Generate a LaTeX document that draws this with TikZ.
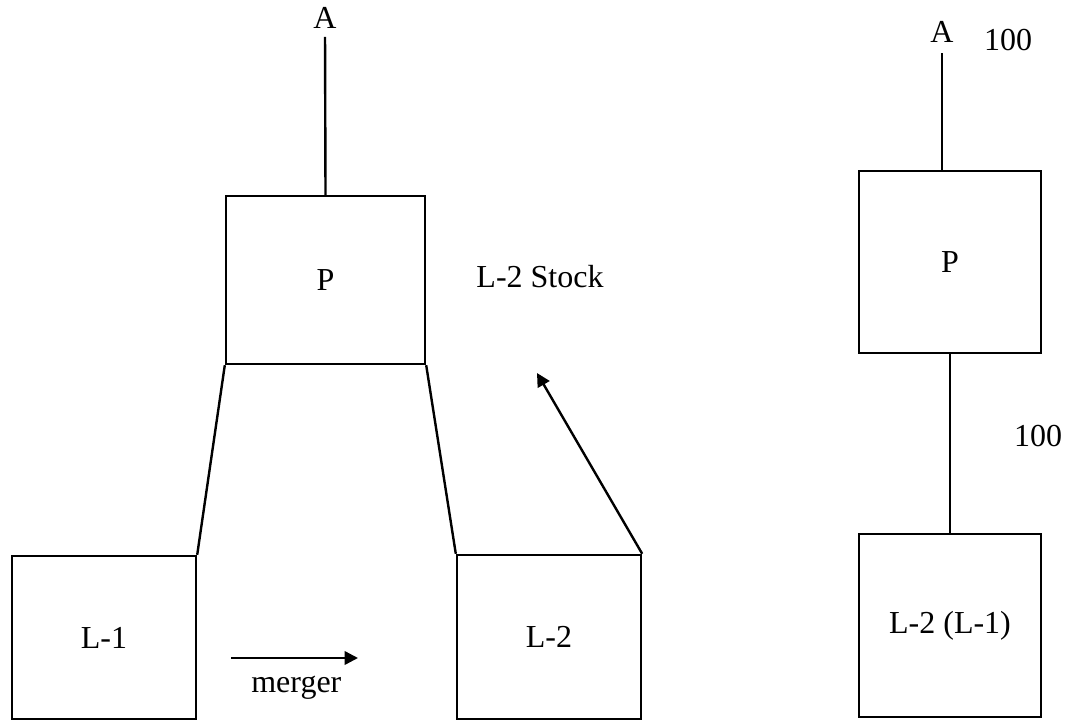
\documentclass[tikz,border=0pt]{standalone}
\usepackage{fontspec}
\setmainfont{Liberation Serif}
\usepackage{tikz}
\usetikzlibrary{arrows.meta,positioning}

\begin{document}
\begin{tikzpicture}[
  x=0.75pt,y=-0.75pt,
  every node/.style={font=\fontsize{24}{28}\selectfont},
  box/.style={draw=black,line width=1.8pt,inner sep=0pt},
  lbl/.style={inner sep=0pt},
  link/.style={line width=1.8pt},
  arr/.style={-{Triangle[length=10pt,width=10pt]},line width=1.8pt}
]
\useasboundingbox (0,0) rectangle (1068,725);
% before the merger
\node[lbl] (a) at (325,18) {A};
\node[box,minimum width=149.25pt,minimum height=126pt] (p) at (325.5,280) {P};
\node[box,minimum width=138pt,minimum height=122.25pt] (l1) at (104,637.5) {L-1};
\node[box,minimum width=138pt,minimum height=123pt] (l2) at (549,637) {L-2};
\node[lbl] (stock) at (540,277) {L-2 Stock};
\coordinate (stocktip) at (537,373);
\coordinate (m1) at (231,658);
\coordinate (m2) at (358,658);
\node[lbl,below=13pt of m1,xshift=49pt] (merger) {merger};
\draw[link,shorten <=6pt] (a.south) -- (p.north);
\draw[link] (p.south west) -- (l1.north east);
\draw[link] (p.south east) -- (l2.north west);
\draw[arr] (l2.north east) -- (stocktip);
\draw[arr] (m1) -- (m2);
% after the merger
\node[lbl] (ar) at (942,32) {A};
\node[lbl] (top) at (1008,40) {100};
\node[box,minimum width=136.5pt,minimum height=136.5pt] (pr) at (950,262) {P};
\node[box,minimum width=136.5pt,minimum height=137.25pt] (lr) at (950,625.5) {L-2 (L-1)};
\node[lbl] (mid) at (1038,436) {100};
\draw[link,shorten <=8pt] (ar.south) -- (ar.south |- pr.north);
\draw[link] (pr.south) -- (lr.north);
\end{tikzpicture}
\end{document}
